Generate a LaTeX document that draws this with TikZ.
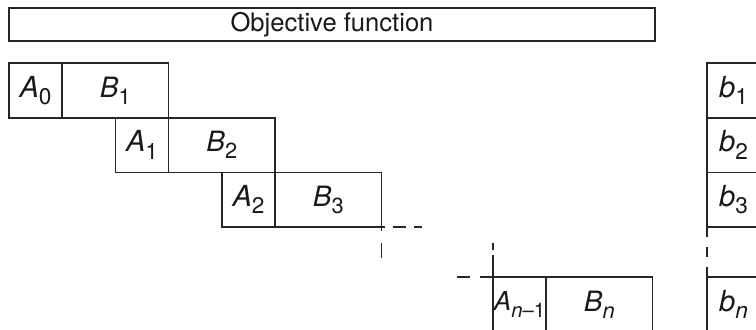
\documentclass[tikz,border=0pt]{standalone}
\usepackage{fontspec}
\usepackage{graphicx}
\setmainfont{TeX Gyre Heros}
\usetikzlibrary{positioning}
\newcommand{\lbl}[2]{\textit{#1}\raisebox{-0.25em}{\scalebox{0.78}{#2}}}

\begin{document}
\begin{tikzpicture}[x=0.5pt,y=-0.5pt,line width=0.85pt,draw=black!85,text=black!90]
\tikzstyle{cell}=[draw=black!85,line width=0.85pt,inner sep=0pt,outer sep=0pt,minimum height=27.35pt,anchor=north west]
\tikzstyle{dsh}=[draw=black!85,dash pattern=on 6.5pt off 4pt,dash phase=5pt]
\path[use as bounding box] (0,0) rectangle (756,330);
\clip (0,0) rectangle (756,330);
\node[cell,minimum width=323pt,minimum height=16.5pt,font=\fontsize{12.8}{14}\selectfont] (obj) at (9,8) {Objective function};
\foreach \i/\p/\q in {0/0/1,1/1/2,2/2/3} {
  \node[cell,minimum width=26.5pt,font=\fontsize{14.5}{16}\selectfont] (a\i) at (9+106.5*\i,63+54.7*\i) {\lbl{A}{\p}};
  \node[cell,minimum width=53.25pt,font=\fontsize{14}{16}\selectfont] (b\q) at (a\i.north east) {\lbl{B}{\q}};
}
\node[cell,minimum width=26.5pt,font=\fontsize{13}{15}\selectfont] (an) at (493,277) {\lbl{A}{\textit{n}--1}};
\node[cell,minimum width=53.25pt,font=\fontsize{14}{16}\selectfont] (bn) at (an.north east) {\lbl{B}{\textit{n}}};
\foreach \i in {1,2,3} \node[cell,minimum width=26.5pt,font=\fontsize{14.5}{16}\selectfont] (rhs\i) at (707,63+54.7*\i-54.7) {\lbl{b}{\i}};
\node[cell,minimum width=26.5pt,font=\fontsize{14.5}{16}\selectfont] (rhsn) at (707,277) {\lbl{b}{\textit{n}}};
\draw[dsh] (b3.south east) -- ++(40,0);
\draw[dsh,dash pattern=on 7.5pt off 6pt,dash phase=5.5pt] (b3.south east) -- ++(0,33);
\draw[dsh,dash phase=0pt,dash pattern=on 6.5pt off 5pt] (an.north west) -- ++(-36,0);
\draw[dsh,dash pattern=on 11pt off 2.5pt,dash phase=0pt] (an.north west) -- ++(0,-34);
\draw[dsh,dash pattern=on 5pt off 5pt,dash phase=0pt] (rhs3.south west) -- (rhsn.north west);
\end{tikzpicture}
\end{document}
